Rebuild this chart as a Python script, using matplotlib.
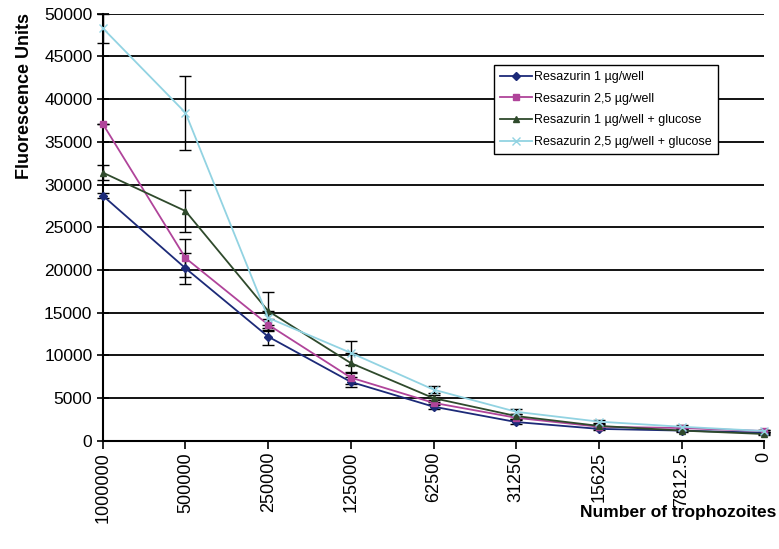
import matplotlib
matplotlib.use("Agg")
import matplotlib.pyplot as plt
import numpy as np

plt.rcParams['font.family'] = ['Liberation Sans', 'DejaVu Sans']

categories = ['1000000', '500000', '250000', '125000', '62500', '31250', '15625', '7812.5', '0']

res1 = [28700, 20200, 12200, 6900, 4000, 2200, 1400, 1200, 950]
res1_err = [300, 1800, 1000, 600, 300, 200, 150, 100, 100]
res25 = [37100, 21400, 13600, 7400, 4450, 2700, 1650, 1500, 1150]
res25_err = [0, 2200, 700, 700, 300, 200, 150, 100, 100]
res1_glu = [31400, 26900, 15200, 9100, 5000, 2900, 1750, 1200, 800]
res1_glu_err = [900, 2500, 2200, 1200, 400, 300, 200, 150, 100]
res25_glu = [48300, 38400, 14400, 10300, 6000, 3400, 2250, 1650, 1150]
res25_glu_err = [1700, 4300, 800, 1400, 400, 300, 200, 150, 100]

labels = ['Resazurin 1 \u00b5g/well', 'Resazurin 2,5 \u00b5g/well',
          'Resazurin 1 \u00b5g/well + glucose', 'Resazurin 2,5 \u00b5g/well + glucose']

fig = plt.figure(figsize=(7.79, 5.49), dpi=100)
ax = fig.add_axes([0.132, 0.197, 0.849, 0.778])

x = np.arange(len(categories))
series = [
    (res1, res1_err, '#1c2a78', 'D', 4),
    (res25, res25_err, '#b0449a', 's', 5),
    (res1_glu, res1_glu_err, '#2f4a2c', '^', 5),
    (res25_glu, res25_glu_err, '#92d3e2', 'x', 6),
]
for (y, e, c, m, ms), lab in zip(series, labels):
    ax.errorbar(x, y, yerr=e, fmt='none', ecolor='black', elinewidth=1,
                capsize=4, capthick=1, clip_on=False, zorder=3)
    ax.plot(x, y, color=c, marker=m, markersize=ms, lw=1.3, label=lab,
            clip_on=False, zorder=4)

ax.set_xlim(0, 8)
ax.set_ylim(0, 50000)
ax.set_yticks(np.arange(0, 50001, 5000))
ax.set_xticks(x)
ax.set_xticklabels(categories, rotation=90, fontsize=13)
ax.tick_params(axis='y', labelsize=12.5, direction='inout', length=8, width=1.2)
ax.tick_params(axis='x', direction='out', length=6, width=1.2, pad=2)
ax.yaxis.grid(True, color='black', lw=1.3)
ax.set_axisbelow(True)
for s in ['top', 'right']:
    ax.spines[s].set_visible(False)
for s in ['left', 'bottom']:
    ax.spines[s].set_linewidth(1.5)

fig.text(0.031, 0.825, 'Fluorescence Units', rotation=90, fontsize=13,
         fontweight='bold', ha='center', va='center')
fig.text(0.997, 0.066, 'Number of trophozoites', fontsize=12.5,
         fontweight='bold', ha='right', va='center')

leg = ax.legend(loc='upper left', bbox_to_anchor=(0.5915, 0.8806), fontsize=9,
                fancybox=False, edgecolor='black', framealpha=1,
                borderaxespad=0, borderpad=0.5, handlelength=2.5,
                handletextpad=0.2, labelspacing=0.78)
leg.get_frame().set_linewidth(1)
leg.set_zorder(5)

fig.savefig('out.png', dpi=100)
